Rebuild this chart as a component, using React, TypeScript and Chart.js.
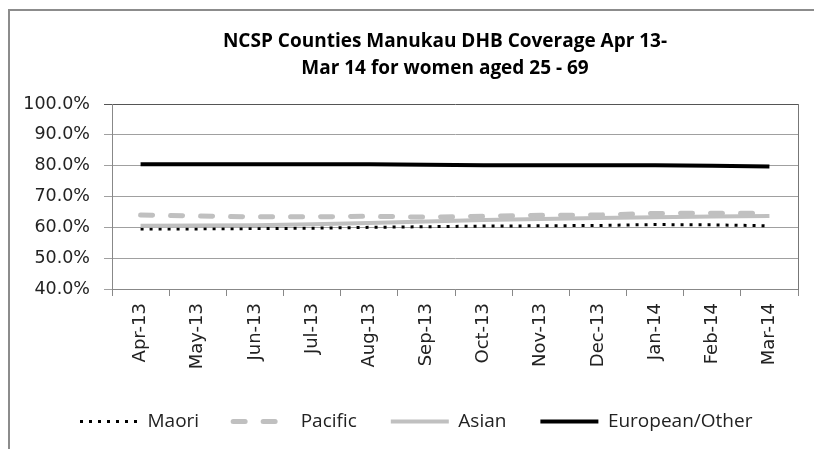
import React, { useEffect, useRef } from "react";
import { Chart, registerables } from "chart.js";

Chart.register(...registerables);

const titleLines = ["NCSP Counties Manukau DHB Coverage Apr 13-", "Mar 14 for women aged 25 - 69"];
const months = ["Apr-13", "May-13", "Jun-13", "Jul-13", "Aug-13", "Sep-13", "Oct-13", "Nov-13", "Dec-13", "Jan-14", "Feb-14", "Mar-14"];
const maori = [59.5, 59.5, 59.6, 59.7, 60.0, 60.2, 60.4, 60.5, 60.6, 60.9, 60.8, 60.5];
const pacific = [64.0, 63.7, 63.4, 63.4, 63.6, 63.3, 63.6, 63.9, 64.0, 64.5, 64.6, 64.5];
const asian = [60.5, 60.6, 60.7, 61.0, 61.4, 61.9, 62.4, 62.7, 63.0, 63.3, 63.5, 63.7];
const european = [80.5, 80.5, 80.5, 80.5, 80.5, 80.3, 80.1, 80.1, 80.1, 80.1, 80.0, 79.7];
const yMin = 40;
const yMax = 100;
const yStep = 10;

const legendShift = {
  id: "legendShift",
  afterLayout(chart: any) {
    if (chart.legend) {
      chart.legend.left += 46;
      chart.legend.right += 46;
    }
  },
};

export default function App() {
  const ref = useRef<HTMLCanvasElement | null>(null);
  useEffect(() => {
    if (!ref.current) return;
    const chart = new Chart(ref.current, {
      type: "line",
      data: {
        labels: months,
        datasets: [
          { label: "Maori", data: maori, borderColor: "#000000", backgroundColor: "#000000", borderWidth: 3, borderDash: [3, 6], pointRadius: 0, order: 3, tension: 0 },
          { label: "Pacific", data: pacific, borderColor: "#c0c0c0", backgroundColor: "#c0c0c0", borderWidth: 5, borderDash: [12, 18], borderCapStyle: "round", pointRadius: 0, order: 2, tension: 0 },
          { label: "Asian", data: asian, borderColor: "#c0c0c0", backgroundColor: "#c0c0c0", borderWidth: 4, pointRadius: 0, order: 1, tension: 0 },
          { label: "European/Other", data: european, borderColor: "#000000", backgroundColor: "#000000", borderWidth: 4, pointRadius: 0, order: 0, tension: 0 },
        ],
      },
      plugins: [legendShift],
      options: {
        responsive: false,
        maintainAspectRatio: false,
        animation: false,
        layout: { padding: { left: 0, right: 0, top: 0, bottom: 8 } },
        plugins: {
          tooltip: { enabled: false },
          title: {
            display: true,
            text: titleLines,
            color: "#000000",
            font: { family: "'Open Sans'", size: 19, weight: "bold", lineHeight: 27 / 19 },
            padding: { top: 28, bottom: 22 },
          },
          legend: {
            display: true,
            position: "bottom",
            align: "start",
            labels: {
              usePointStyle: true,
              pointStyle: "line",
              pointStyleWidth: 58,
              padding: 34,
              color: "#222222",
              font: { family: "'Open Sans'", size: 19 },
              sort: (a: any, b: any) => a.datasetIndex - b.datasetIndex,
              generateLabels: (c: any) => {
                const items = (Chart.defaults as any).plugins.legend.labels.generateLabels(c);
                return items.map((it: any) => {
                  const ds = c.data.datasets[it.datasetIndex];
                  return {
                    ...it,
                    lineWidth: ds.borderWidth,
                    strokeStyle: ds.borderColor,
                    lineDash: ds.borderDash || [],
                    lineCap: ds.borderCapStyle || "butt",
                  };
                });
              },
            },
          },
        },
        scales: {
          x: {
            type: "category",
            offset: true,
            grid: { display: true, drawOnChartArea: false, drawTicks: true, tickLength: 7, color: "#888888", offset: true },
            border: { display: true, color: "#888888", width: 1 },
            ticks: { minRotation: 90, maxRotation: 90, autoSkip: false, padding: 7, color: "#222222", font: { family: "'DejaVu Sans'", size: 18 } },
            afterFit: (s: any) => { s.height = 89; },
          },
          y: {
            type: "linear",
            min: yMin,
            max: yMax,
            grid: {
              display: true,
              drawTicks: true,
              tickLength: 8,
              color: (ctx: any) => (ctx.tick && ctx.tick.value === yMax ? "#555555" : "#a0a0a0"),
            },
            border: { display: true, color: "#888888", width: 1 },
            ticks: {
              stepSize: yStep,
              padding: 14,
              color: "#222222",
              font: { family: "'DejaVu Sans'", size: 17.5 },
              callback: (v: any) => Number(v).toFixed(1) + "%",
            },
            afterFit: (s: any) => { s.width = 112; },
          },
          yR: {
            type: "linear",
            position: "right",
            display: true,
            grid: { display: false, drawTicks: false },
            border: { display: true, color: "#777777", width: 1 },
            ticks: { display: false },
            afterFit: (s: any) => { s.width = 92; },
          },
        },
      } as any,
    });
    return () => chart.destroy();
  }, []);

  return (
    <div style={{ position: "absolute", left: 0, top: 0, width: 814, height: 449, overflow: "hidden", background: "#ffffff" }}>
      <div style={{ position: "absolute", left: 8, top: 9, width: 1000, height: 1000, borderLeft: "2px solid #8c8c8c", borderTop: "2px solid #8c8c8c" }} />
      <canvas ref={ref} width={890} height={449} style={{ position: "absolute", left: 0, top: 0, width: 890, height: 449 }} />
    </div>
  );
}
